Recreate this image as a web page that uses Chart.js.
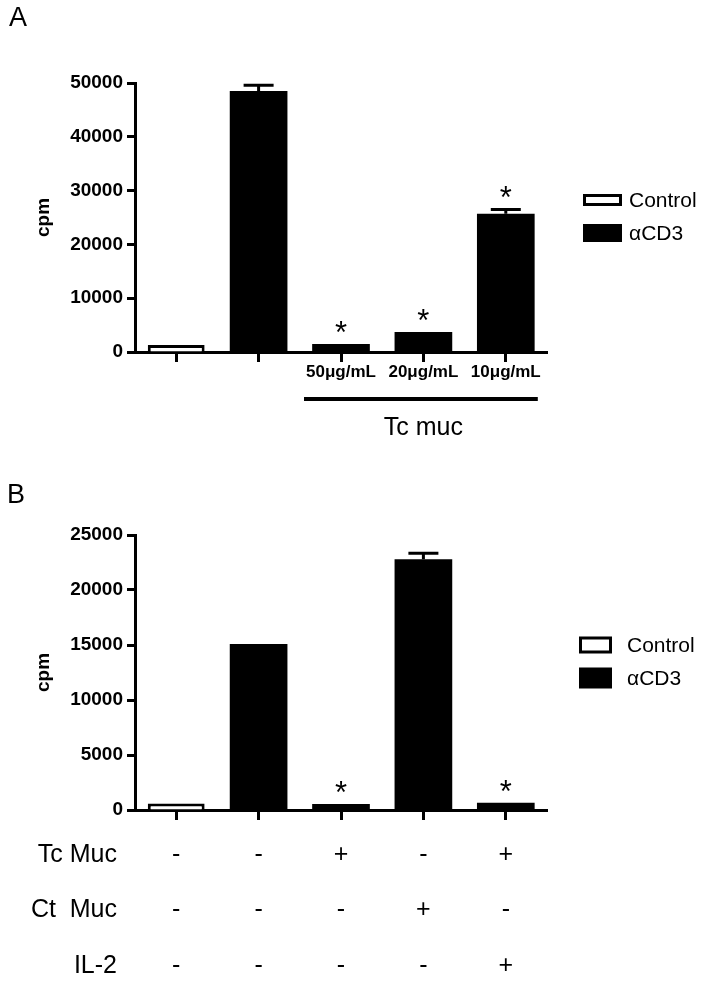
<!DOCTYPE html>
<html>
<head>
<meta charset="utf-8">
<script src="https://cdn.jsdelivr.net/npm/chart.js@4.4.0/dist/chart.umd.min.js"></script>
<style>
  body { margin: 0; background: #fff; }
  #wrap { position: relative; width: 707px; height: 983px; }
  canvas { position: absolute; left: 0; }
  #chartA { top: 0; }
  #chartB { top: 470px; }
</style>
</head>
<body>
<div id="wrap">
  <canvas id="chartA" width="707" height="470"></canvas>
  <canvas id="chartB" width="707" height="513"></canvas>
</div>
<script>
// Panel A data
const labelsA = ['', '', '50\u03bcg/mL', '20\u03bcg/mL', '10\u03bcg/mL'];
const controlA = [1300, null, null, null, null];
const acd3A = [null, 48500, 1500, 3700, 25700];
const acd3ErrA = [null, 1100, 0, 0, 800];
const starsA = [false, false, true, true, true];

// Panel B data
const labelsB = ['1', '2', '3', '4', '5'];
const controlB = [600, null, null, null, null];
const acd3B = [null, 15100, 550, 22800, 650];
const acd3ErrB = [null, 0, 0, 550, 0];
const starsB = [false, false, true, false, true];
const tcMuc = ['-', '-', '+', '-', '+'];
const ctMuc = ['-', '-', '-', '+', '-'];
const il2 = ['-', '-', '-', '-', '+'];

const FONT = '"Liberation Sans", Arial, sans-serif';
Chart.defaults.font.family = FONT;
Chart.defaults.color = '#000';

// error bars (upper only) + significance stars
const makeErrorBars = (errs, stars) => ({
    id: 'errorBars',
    afterDatasetsDraw(chart) {
        const ctx = chart.ctx;
        const y = chart.scales.y;
        const meta = chart.getDatasetMeta(1);
        meta.data.forEach((bar, i) => {
            const v = chart.data.datasets[1].data[i];
            if (v == null) return;
            const e = errs[i] || 0;
            const top = y.getPixelForValue(v + e);
            ctx.save();
            if (e) {
                ctx.strokeStyle = '#000';
                ctx.lineWidth = 3;
                ctx.beginPath();
                ctx.moveTo(bar.x, bar.y);
                ctx.lineTo(bar.x, top);
                ctx.moveTo(bar.x - 15, top);
                ctx.lineTo(bar.x + 15, top);
                ctx.stroke();
            }
            if (stars[i]) {
                ctx.fillStyle = '#000';
                ctx.font = '31px ' + FONT;
                ctx.textAlign = 'center';
                ctx.textBaseline = 'alphabetic';
                ctx.fillText('*', bar.x, top - 1);
            }
            ctx.restore();
        });
    }
});

// panel letter, y title, legend, extra annotations
const makeAnnot = o => ({
    id: 'annot',
    afterDraw(chart) {
        const ctx = chart.ctx;
        const area = chart.chartArea;
        ctx.save();
        ctx.fillStyle = '#000';
        ctx.strokeStyle = '#000';
        ctx.font = '27px ' + FONT;
        ctx.textAlign = 'left';
        ctx.textBaseline = 'alphabetic';
        ctx.fillText(o.letter, o.letterX, o.letterY);
        // y title
        ctx.save();
        ctx.translate(44, (area.top + area.bottom) / 2);
        ctx.rotate(-Math.PI / 2);
        ctx.font = 'bold 19px ' + FONT;
        ctx.textAlign = 'center';
        ctx.textBaseline = 'middle';
        ctx.fillText('cpm', 0, 0);
        ctx.restore();
        // legend
        chart.data.datasets.forEach((ds, i) => {
            const it = o.legend[i];
            ctx.fillStyle = ds.backgroundColor;
            ctx.fillRect(it.x, it.y - it.h / 2, it.w, it.h);
            if (ds.borderWidth) {
                ctx.lineWidth = 3;
                ctx.strokeStyle = '#000';
                ctx.strokeRect(it.x + 1.5, it.y - it.h / 2 + 1.5, it.w - 3, it.h - 3);
            }
            ctx.fillStyle = '#000';
            ctx.font = '21px ' + FONT;
            ctx.textAlign = 'left';
            ctx.textBaseline = 'middle';
            ctx.fillText(ds.label, o.legendTextX, it.y + 1);
        });
        if (o.extra) o.extra(chart, ctx);
        ctx.restore();
    }
});

function axes(max, step, xHeight, hideX) {
    return {
        x: {
            offset: true,
            grid: { drawOnChartArea: false, offset: false, color: '#000', tickLength: 10, tickWidth: 3 },
            border: { color: '#000', width: 3 },
            ticks: {
                font: { size: 17, weight: 'bold' }, color: '#000', padding: 0, maxRotation: 0, autoSkip: false,
                callback: function (v) { return hideX ? '' : this.getLabelForValue(v); }
            },
            afterFit: s => { s.height = xHeight; }
        },
        y: {
            min: 0, max: max,
            grid: { drawOnChartArea: false, color: '#000', tickLength: 8, tickWidth: 3 },
            border: { color: '#000', width: 3 },
            ticks: { stepSize: step, font: { size: 19, weight: 'bold' }, color: '#000', padding: 4, callback: v => String(v) },
            afterFit: s => { s.width = 135; }
        }
    };
}

function datasets(control, acd3) {
    return [
        { label: 'Control', data: control, backgroundColor: '#fff', borderColor: '#000', borderWidth: 3, grouped: false, barPercentage: 0.69, categoryPercentage: 1 },
        { label: '\u03b1CD3', data: acd3, backgroundColor: '#000', borderWidth: 0, grouped: false, barPercentage: 0.7, categoryPercentage: 1 }
    ];
}

new Chart(document.getElementById('chartA'), {
    type: 'bar',
    data: { labels: labelsA, datasets: datasets(controlA, acd3A) },
    options: {
        responsive: false,
        animation: false,
        layout: { padding: { left: 0, right: 160, top: 83, bottom: 0 } },
        scales: axes(50000, 10000, 118, false),
        plugins: { legend: { display: false }, tooltip: { enabled: false } }
    },
    plugins: [
        makeErrorBars(acd3ErrA, starsA),
        makeAnnot({
            letter: 'A', letterX: 9, letterY: 26,
            legendTextX: 629,
            legend: [{ x: 583, y: 200, w: 39, h: 12 }, { x: 583, y: 233, w: 39, h: 18 }],
            extra: (chart, ctx) => {
                const x = chart.scales.x;
                const x0 = x.getPixelForValue(2) - 37;
                const x1 = x.getPixelForValue(4) + 32;
                ctx.lineWidth = 4;
                ctx.beginPath();
                ctx.moveTo(x0, 399);
                ctx.lineTo(x1, 399);
                ctx.stroke();
                ctx.font = '25px ' + FONT;
                ctx.textAlign = 'center';
                ctx.textBaseline = 'alphabetic';
                ctx.fillText('Tc muc', x.getPixelForValue(3), 435);
            }
        })
    ]
});

new Chart(document.getElementById('chartB'), {
    type: 'bar',
    data: { labels: labelsB, datasets: datasets(controlB, acd3B) },
    options: {
        responsive: false,
        animation: false,
        layout: { padding: { left: 0, right: 160, top: 65, bottom: 0 } },
        scales: axes(25000, 5000, 173, true),
        plugins: { legend: { display: false }, tooltip: { enabled: false } }
    },
    plugins: [
        makeErrorBars(acd3ErrB, starsB),
        makeAnnot({
            letter: 'B', letterX: 7, letterY: 33,
            legendTextX: 627,
            legend: [{ x: 579, y: 175, w: 33, h: 17 }, { x: 579, y: 208, w: 33, h: 21 }],
            extra: (chart, ctx) => {
                const x = chart.scales.x;
                const rows = [['Tc Muc', tcMuc, 392], ['Ct  Muc', ctMuc, 447], ['IL-2', il2, 503]];
                ctx.font = '25px ' + FONT;
                ctx.textBaseline = 'alphabetic';
                rows.forEach(([name, vals, by]) => {
                    ctx.textAlign = 'right';
                    ctx.fillText(name, 117, by);
                    ctx.textAlign = 'center';
                    vals.forEach((s, i) => ctx.fillText(s, x.getPixelForValue(i), by));
                });
            }
        })
    ]
});
</script>
</body>
</html>
